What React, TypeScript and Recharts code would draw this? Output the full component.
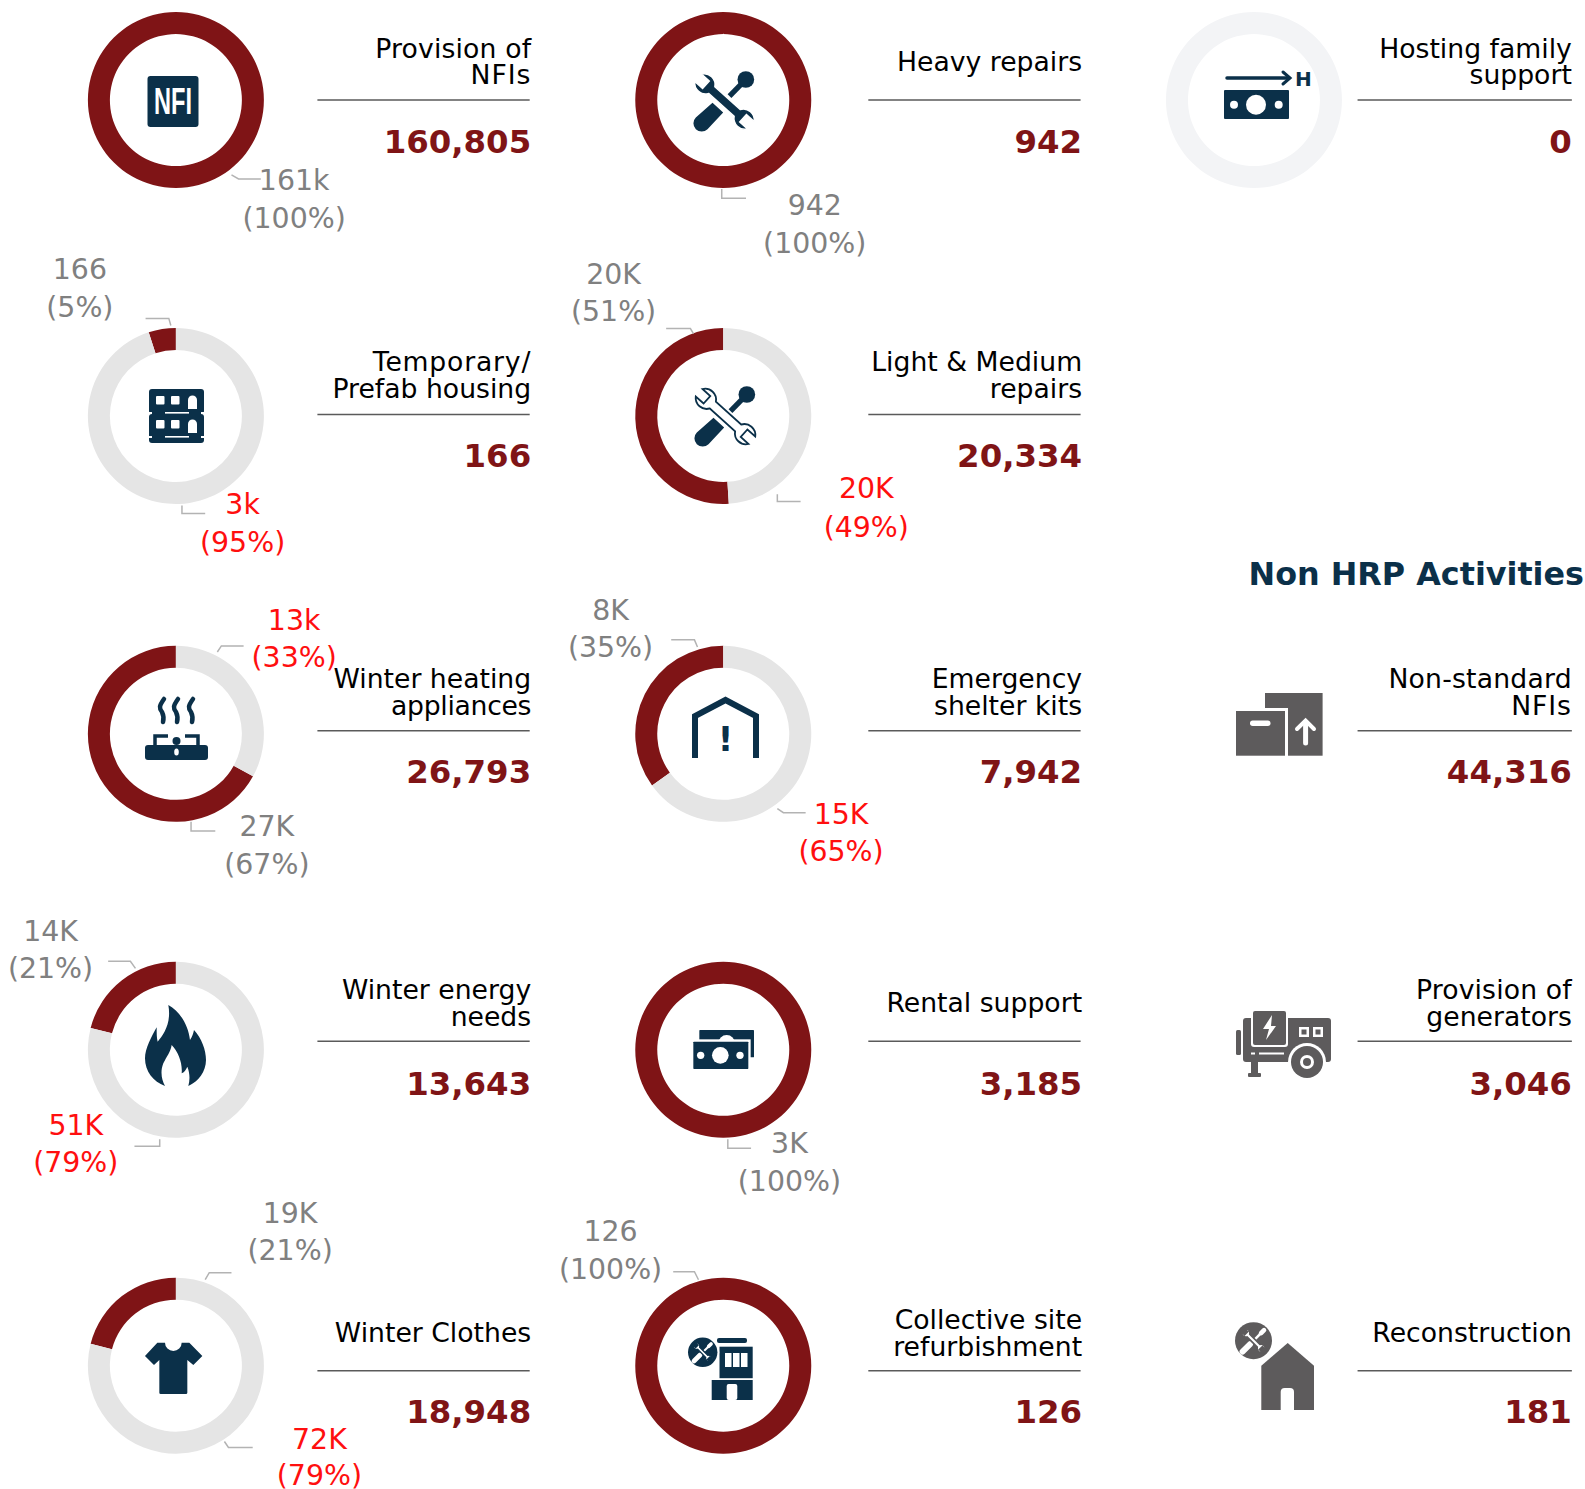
import React from "react";
import { PieChart, Pie, Cell } from "recharts";

const MAROON = "#7f1416";
const TRACK = "#e5e5e5";
const EMPTY = "#f3f4f6";
const NAVY = "#0b3049";
const ICON = "#5d5b5c";
const FONT = "'DejaVu Sans', Verdana, sans-serif";
const k = 1585 / 1568;
const s = (v: number) => v * k;

// values: reached / remaining
const reached = [160805, 942, 0, 166, 20334, 26793, 7942, 13643, 3185, 18948, 126];
const remaining = [0, 0, 1, 3154, 19536, 13197, 14749, 51323, 0, 71281, 0];
const colX = [174, 715.5, 1240.5];
const rowY = [99, 411.5, 726, 1038.5, 1351];
const donutCol = [0, 1, 2, 0, 1, 0, 1, 0, 1, 0, 1];
const donutRow = [0, 0, 0, 1, 1, 2, 2, 3, 3, 4, 4];

// blocks of title + rule + value
const titles = [
  ["Provision of", "NFIs"], ["Heavy repairs"], ["Hosting family", "support"],
  ["Temporary/", "Prefab housing"], ["Light & Medium", "repairs"],
  ["Winter heating", "appliances"], ["Emergency", "shelter kits"], ["Non-standard", "NFIs"],
  ["Winter energy", "needs"], ["Rental support"], ["Provision of", "generators"],
  ["Winter Clothes"], ["Collective site", "refurbishment"], ["Reconstruction"],
];
const totals = ["160,805", "942", "0", "166", "20,334", "26,793", "7,942", "44,316", "13,643", "3,185", "3,046", "18,948", "126", "181"];
const blockCol = [0, 1, 2, 0, 1, 0, 1, 2, 0, 1, 2, 0, 1, 2];
const blockRow = [0, 0, 0, 1, 1, 2, 2, 2, 3, 3, 3, 4, 4, 4];
const textRight = [525.5, 1070.5, 1555];
const ruleLeft = [314, 859, 1343];
const ruleRight = [524, 1069, 1555];
const ruleY = [99, 410, 723, 1030, 1356];
const titleCenter = [61, 371, 684.5, 992, 1318.5];
const valueCenter = [140, 451, 764, 1072, 1397];
const lineSpacing: Record<string, number> = { "Temporary/": 0.8, NFIs: 0.9, appliances: -0.3, "Provision of": 0.15, "Non-standard": 0.2 };

// callouts around the rings
const calloutText = [
  ["161k", "(100%)"], ["942", "(100%)"], ["166", "(5%)"], ["3k", "(95%)"], ["20K", "(51%)"], ["20K", "(49%)"],
  ["13k", "(33%)"], ["27K", "(67%)"], ["8K", "(35%)"], ["15K", "(65%)"], ["14K", "(21%)"], ["51K", "(79%)"],
  ["3K", "(100%)"], ["19K", "(21%)"], ["72K", "(79%)"], ["126", "(100%)"],
];
const calloutRed = [0, 0, 0, 1, 0, 1, 1, 0, 0, 1, 0, 1, 0, 0, 1, 0];
const calloutX = [291, 806, 79, 240, 607, 857, 291, 264, 604, 832, 50, 75, 781, 287, 316, 604];
const calloutY = [178, 203, 266, 499, 271, 483, 613, 817, 603, 805, 921, 1113, 1131, 1200, 1424, 1218];
const calloutStep = [38, 37, 38, 37, 37, 38, 37, 38, 37, 37, 37, 37, 37, 37, 35, 37];
const leaders = [
  "229,173 236,177 258,177", "714,187 714,196 738,196", "144,315 167,315 169,322", "180,500 180,508 203,508",
  "659,325 683,325 686,330", "769,489 769,496 792,496", "241,639 219,639 215,645", "189,813 189,822 213,822",
  "664,633 687,633 690,640", "769,800 775,804 797,804", "107,951 129,951 134,958", "158,1127 158,1134 133,1134",
  "720,1127 720,1136 743,1136", "229,1259 207,1259 203,1266", "222,1426 226,1432 250,1432", "666,1258 687,1258 691,1266",
];

const WRENCH =
  "M17,-4.5 A11,11 0 0 1 35.5,-5 L25,-5 L25,5 L35.5,5 A11,11 0 0 1 17,4.5 L-17,4.5 A11,11 0 0 1 -35.5,5 L-25,5 L-25,-5 L-35.5,-5 A11,11 0 0 1 -17,-4.5 Z";

function Tools({ x, y, outline }: { x: number; y: number; outline?: boolean }) {
  return (
    <g transform={`translate(${x},${y})`}>
      <g transform="scale(0.3333) translate(-133,-124)">
        <path d="M97,128 L129,157 L82,207 A23,23 0 0 1 47,172 Z" fill={NAVY} />
        <line x1={148} y1={108} x2={195} y2={60} stroke={NAVY} strokeWidth={16} />
        <circle cx={197} cy={58} r={25} fill={NAVY} />
      </g>
      <g transform="rotate(42)">
        <path d={WRENCH} fill={outline ? "#fff" : NAVY} stroke={outline ? NAVY : "#fff"} strokeWidth={outline ? 1.8 : 1.5} />
      </g>
    </g>
  );
}

function MiniTools({ x, y, r, bg }: { x: number; y: number; r: number; bg: string }) {
  const f = r / 55;
  return (
    <g transform={`translate(${x},${y})`}>
      <circle r={r} fill={bg} />
      <g transform={`scale(${f * 1.25})`}>
        <line x1={-26} y1={26} x2={-8} y2={8} stroke="#fff" strokeWidth={14} strokeLinecap="round" />
        <line x1={-8} y1={8} x2={22} y2={-22} stroke="#fff" strokeWidth={6} />
        <line x1={18} y1={-18} x2={25} y2={-25} stroke="#fff" strokeWidth={11} strokeLinecap="round" />
        <g transform="rotate(45)">
          <path d={WRENCH} fill="#fff" stroke={bg} strokeWidth={4} />
        </g>
      </g>
    </g>
  );
}

function Icons() {
  return (
    <g>
      {/* NFI */}
      <rect x={147.5} y={76} width={51} height={51} rx={3} fill={NAVY} />
      <text x={173} y={114} textAnchor="middle" fill="#fff" fontFamily="'Liberation Sans', sans-serif" fontWeight={700} fontSize={36} textLength={38} lengthAdjust="spacingAndGlyphs">NFI</text>
      <Tools x={724.5} y={101.5} />
      {/* hosting */}
      <rect x={1224} y={90} width={65} height={29} rx={1} fill={NAVY} />
      <circle cx={1256} cy={104.7} r={10} fill="#fff" />
      <circle cx={1234} cy={104.7} r={4} fill="#fff" />
      <circle cx={1278.7} cy={104.7} r={4} fill="#fff" />
      <line x1={1227} y1={78} x2={1289} y2={78} stroke={NAVY} strokeWidth={3.5} strokeLinecap="round" />
      <polyline points="1283,72 1290,78 1283,84" fill="none" stroke={NAVY} strokeWidth={3} strokeLinecap="round" />
      <text x={1295} y={86} fill={NAVY} fontFamily={FONT} fontWeight={700} fontSize={20}>H</text>
      {/* housing */}
      <rect x={149} y={389} width={55} height={25} rx={3} fill={NAVY} />
      <rect x={149} y={414} width={55} height={29} rx={3} fill={NAVY} />
      {[396, 420].map((wy) => (
        <g key={wy} fill="#fff">
          <rect x={156} y={wy} width={8.5} height={8.5} rx={1} />
          <rect x={171} y={wy} width={8.5} height={8.5} rx={1} />
          <path d={`M188,${wy + 13} L188,${wy + 4} A4.5,4.5 0 0 1 197,${wy + 4} L197,${wy + 13} Z`} />
        </g>
      ))}
      <rect x={165} y={412} width={24} height={1.6} fill="#fff" />
      <rect x={165} y={436} width={24} height={1.6} fill="#fff" />
      <rect x={149} y={412} width={3} height={2} fill="#fff" />
      <rect x={201} y={412} width={3} height={2} fill="#fff" />
      <rect x={149} y={436} width={3} height={2} fill="#fff" />
      <rect x={201} y={436} width={3} height={2} fill="#fff" />
      <Tools x={725.5} y={416.5} outline />
      {/* heating */}
      <rect x={145} y={745} width={63} height={15} rx={3} fill={NAVY} />
      <polyline points="155,745 155,736 168,736" fill="none" stroke={NAVY} strokeWidth={3.5} />
      <polyline points="198,745 198,736 185,736" fill="none" stroke={NAVY} strokeWidth={3.5} />
      <circle cx={176.5} cy={741} r={4} fill={NAVY} />
      <ellipse cx={176.5} cy={752} rx={2.3} ry={3.5} fill="#fff" />
      {[163, 177, 192].map((hx) => (
        <path key={hx} d={`M${hx + 1},699 C${hx - 4},706 ${hx - 4},708 ${hx - 1},712 C${hx + 1},716 ${hx + 1},718 ${hx},722`} fill="none" stroke={NAVY} strokeWidth={4.5} strokeLinecap="round" />
      ))}
      {/* shelter */}
      <path d="M695,758 L695,716 L725.5,700 L756,716 L756,758" fill="none" stroke={NAVY} strokeWidth={6} />
      <text x={725.5} y={751} textAnchor="middle" fill={NAVY} fontFamily={FONT} fontWeight={700} fontSize={34}>!</text>
      {/* flame */}
      <g transform="translate(130,990) scale(0.3333)">
        <path d="M115,45 C150,65 175,105 180,150 C187,140 190,130 192,120 C215,145 228,180 228,210 C228,245 205,275 175,288 C180,270 180,250 172,230 C168,240 162,247 155,250 C158,220 145,185 125,165 C122,185 110,200 100,220 C90,245 95,270 105,288 C70,275 45,245 45,205 C45,175 65,140 80,112 C80,130 80,145 83,155 C100,135 125,100 115,45 Z" fill={NAVY} />
      </g>
      {/* rental */}
      <g transform="translate(680,1020) scale(0.3333)">
        <rect x={58} y={30} width={164} height={82} rx={2} fill={NAVY} />
        <circle cx={140} cy={70} r={25} fill="#fff" />
        <rect x={33} y={58} width={179} height={96} fill="#fff" />
        <rect x={40} y={65} width={165} height={82} rx={2} fill={NAVY} />
        <circle cx={121} cy={106} r={25} fill="#fff" />
        <circle cx={62} cy={106} r={11} fill="#fff" />
        <circle cx={180} cy={106} r={11} fill="#fff" />
      </g>
      {/* shirt */}
      <g transform="translate(130,1330) scale(0.3333)">
        <path d="M82,38 L105,38 A25,25 0 0 0 155,38 L178,38 L217,78 L190,105 L172,90 L172,188 Q172,192 168,192 L92,192 Q88,192 88,188 L88,90 L72,105 L45,78 Z" fill={NAVY} />
      </g>
      {/* collective */}
      <rect x={717} y={1338} width={30} height={5} rx={2} fill={NAVY} />
      <rect x={719.5} y={1346.7} width={33.2} height={31.5} fill={NAVY} />
      <rect x={725} y={1353} width={6.5} height={14} fill="#fff" />
      <rect x={733} y={1353} width={6.5} height={14} fill="#fff" />
      <rect x={741} y={1353} width={6.5} height={14} fill="#fff" />
      <rect x={711.7} y={1380} width={41} height={20} fill={NAVY} />
      <rect x={726.7} y={1384} width={10.6} height={16} rx={2} fill="#fff" />
      <circle cx={702.7} cy={1352.3} r={16.5} fill="#fff" />
      <MiniTools x={702.7} y={1352.3} r={14.7} bg={NAVY} />
      {/* boxes */}
      <rect x={1265} y={693} width={57.6} height={62.7} fill={ICON} />
      <rect x={1233} y={708} width={55} height={48} fill="#fff" />
      <rect x={1236} y={711} width={49} height={44.7} fill={ICON} />
      <rect x={1250} y={720.5} width={20.5} height={5.5} rx={2.7} fill="#fff" />
      <line x1={1305.6} y1={722} x2={1305.6} y2={743} stroke="#fff" strokeWidth={5} strokeLinecap="round" />
      <polyline points="1297,729 1305.6,720.5 1314,729" fill="none" stroke="#fff" strokeWidth={4} strokeLinecap="round" />
      {/* generator */}
      <rect x={1236} y={1030} width={5} height={25} rx={1.5} fill={ICON} />
      <rect x={1243} y={1018} width={88} height={44} rx={3} fill={ICON} />
      <rect x={1251} y={1009} width={37} height={38} rx={3} fill="#fff" />
      <rect x={1253} y={1011} width={33} height={34} rx={2} fill={ICON} />
      <polygon points="1272,1015 1263,1029 1269,1029 1266,1040 1276,1026 1271,1026" fill="#fff" />
      {[1299, 1313].map((wx) => (
        <g key={wx}>
          <rect x={wx} y={1027} width={10} height={10} fill="#fff" />
          <rect x={wx + 2.5} y={1029.5} width={5} height={5} fill={ICON} />
        </g>
      ))}
      <rect x={1251} y={1052.5} width={4} height={2} fill="#fff" />
      <rect x={1259} y={1052.5} width={25} height={2} fill="#fff" />
      <rect x={1251} y={1062} width={7} height={11} fill={ICON} />
      <rect x={1248} y={1073} width={13} height={4} rx={1} fill={ICON} />
      <circle cx={1307} cy={1062} r={19} fill="#fff" />
      <circle cx={1307} cy={1062} r={16} fill={ICON} />
      <circle cx={1307} cy={1062} r={7} fill="#fff" />
      <circle cx={1307} cy={1062} r={4} fill={ICON} />
      {/* reconstruction */}
      <path d="M1287.7,1343 L1314,1365.7 L1314,1410 L1261.3,1410 L1261.3,1365.7 Z" fill={ICON} />
      <path d="M1280.7,1410 L1280.7,1392 A4,4 0 0 1 1284.7,1388 L1290,1388 A4,4 0 0 1 1294,1392 L1294,1410 Z" fill="#fff" />
      <MiniTools x={1253.5} y={1340.7} r={18.5} bg={ICON} />
    </g>
  );
}

export default function App() {
  return (
    <div style={{ position: "absolute", left: 0, top: 0, width: 1585, height: 1489, overflow: "hidden", background: "#fff" }}>
      <PieChart width={1585} height={1489} margin={{ top: 0, right: 0, bottom: 0, left: 0 }}>
        {reached.map((v, i) => (
          <Pie
            key={i}
            data={[{ name: "reached", value: v }, { name: "remaining", value: remaining[i] }]}
            dataKey="value"
            cx={s(colX[donutCol[i]])}
            cy={s(rowY[donutRow[i]])}
            innerRadius={66}
            outerRadius={88}
            startAngle={90}
            endAngle={450}
            stroke="none"
            isAnimationActive={false}
          >
            <Cell fill={MAROON} />
            <Cell fill={v === 0 ? EMPTY : TRACK} />
          </Pie>
        ))}
      </PieChart>
      <svg width={1585} height={1489} style={{ position: "absolute", left: 0, top: 0, pointerEvents: "none" }} fontFamily={FONT}>
        <Icons />
        {leaders.map((p, i) => (
          <polyline
            key={i}
            points={p.split(" ").map((c) => c.split(",").map((n) => s(Number(n))).join(",")).join(" ")}
            fill="none"
            stroke="#b3b3b3"
            strokeWidth={1.5}
          />
        ))}
        {calloutText.map((lines, i) => (
          <g key={i} fill={calloutRed[i] ? "#ff0f0f" : "#808080"} fontSize={28.4} textAnchor="middle">
            <text x={s(calloutX[i])} y={s(calloutY[i]) + 10}>{lines[0]}</text>
            <text x={s(calloutX[i])} y={s(calloutY[i] + calloutStep[i]) + 10}>{lines[1]}</text>
          </g>
        ))}
        {titles.map((lines, i) => {
          const c = blockCol[i];
          const r = blockRow[i];
          const yc = s(titleCenter[r]);
          return (
            <g key={i}>
              {lines.map((t, j) => (
                <text
                  key={j}
                  x={s(textRight[c])}
                  y={yc + 9.5 + (j - (lines.length - 1) / 2) * 26.5}
                  textAnchor="end"
                  fontSize={26.67}
                  letterSpacing={lineSpacing[t] ?? 0}
                  fill="#000"
                >
                  {t}
                </text>
              ))}
              <line x1={s(ruleLeft[c])} x2={s(ruleRight[c])} y1={s(ruleY[r])} y2={s(ruleY[r])} stroke="#5a5a5a" strokeWidth={1.5} />
              <text x={s(textRight[c])} y={s(valueCenter[r]) + 11} textAnchor="end" fontSize={32.4} fontWeight={700} fill={MAROON}>
                {totals[i]}
              </text>
            </g>
          );
        })}
        <text x={1584} y={s(567) + 11.5} textAnchor="end" fontSize={31.8} fontWeight={700} fill={NAVY}>Non HRP Activities</text>
      </svg>
    </div>
  );
}
